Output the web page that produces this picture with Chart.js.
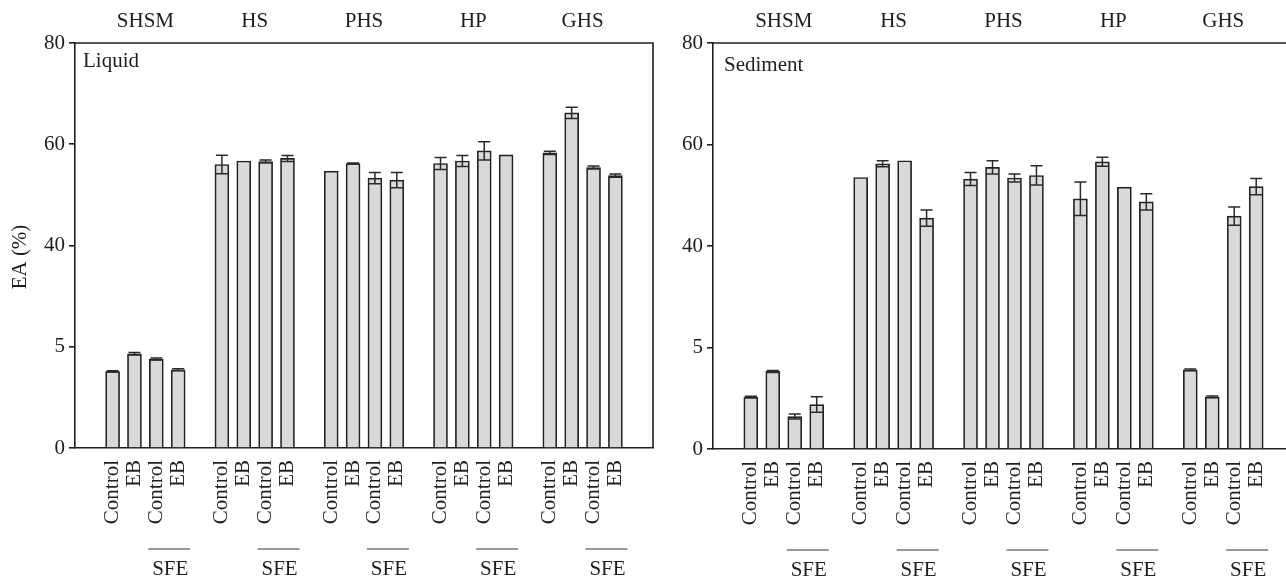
<!DOCTYPE html>
<html>
<head>
<meta charset="utf-8">
<script src="https://cdn.jsdelivr.net/npm/chart.js@4.4.1/dist/chart.umd.min.js"></script>
<style>
  html, body { margin: 0; padding: 0; background: #fff; overflow: hidden; width: 1286px; height: 578px; }
  canvas { position: absolute; top: 0; }
  #liquidChart { left: 0; }
  #sedimentChart { left: 660px; }
</style>
</head>
<body>
<canvas id="liquidChart" width="660" height="578"></canvas>
<canvas id="sedimentChart" width="640" height="578"></canvas>
<script>
// ---- data ----
const groups = ['SHSM', 'HS', 'PHS', 'HP', 'GHS'];
const treatments = ['Control', 'EB', 'Control', 'EB'];
const yTickValues = [0, 5, 40, 60, 80];

const liquidEA  = [3.78, 4.65, 4.39, 3.86,  56.0, 56.7, 56.6, 57.2,  54.7, 56.2, 53.3, 52.9,  56.2, 56.7, 58.7, 57.9,  58.3, 66.2, 55.4, 53.8];
const liquidErr = [0.03, 0.06, 0.05, 0.05,  1.85, 0,    0.3,  0.6,   0,    0.1,  1.1,  1.5,   1.2,  1.1,  1.8,  0,     0.3,  1.1,  0.3,  0.3];

const sedimentEA  = [2.56, 3.82, 1.60, 2.19,  53.5, 56.2, 56.8, 45.5,  53.2, 55.5, 53.4, 53.9,  49.3, 56.6, 51.6, 48.7,  3.90, 2.57, 45.9, 51.7];
const sedimentErr = [0.04, 0.05, 0.12, 0.38,  0,    0.6,  0,    1.6,   1.3,  1.3,  0.8,  1.9,   3.3,  0.9,  0,    1.6,   0.04, 0.04, 1.8,  1.6];

// bar slots: four bars per group, one empty slot between groups
const slots = [];
const slotLabels = [];
groups.forEach((g, gi) => {
    treatments.forEach((t, ti) => {
        slots.push(gi * 5 + ti);
        slotLabels.push(t);
    });
});
const groupCenters = groups.map((g, gi) => gi * 5 + 1.5);

const FONT = "'Liberation Serif', 'DejaVu Serif', serif";
const FSIZE = 21;
const INK = '#1e1e1e';

// broken y axis: each tick interval gets the same height
function toAxis(v) {
    for (let i = 0; i < yTickValues.length - 1; i++) {
        if (v <= yTickValues[i + 1]) {
            return i + (v - yTickValues[i]) / (yTickValues[i + 1] - yTickValues[i]);
        }
    }
    return yTickValues.length - 1;
}

// error bars, panel frame and extra texts
const decorPlugin = {
    id: 'decor',
    afterDatasetsDraw(chart, args, opts) {
        const ctx = chart.ctx;
        const x = chart.scales.x, y = chart.scales.y;
        const area = chart.chartArea;
        ctx.save();

        // error bars
        ctx.strokeStyle = '#2a2a2a';
        ctx.lineWidth = 1.5;
        opts.values.forEach((v, i) => {
            const e = opts.errors[i];
            if (!e) return;
            const px = x.getPixelForValue(slots[i]);
            const yTop = y.getPixelForValue(toAxis(v + e));
            const yBot = y.getPixelForValue(toAxis(v - e));
            ctx.beginPath();
            ctx.moveTo(px, yTop); ctx.lineTo(px, yBot);
            ctx.moveTo(px - 6, yTop); ctx.lineTo(px + 6, yTop);
            ctx.moveTo(px - 6, yBot); ctx.lineTo(px + 6, yBot);
            ctx.stroke();
        });

        // frame (top and right)
        ctx.strokeStyle = INK;
        ctx.lineWidth = 1.6;
        ctx.beginPath();
        ctx.moveTo(area.left, area.top);
        ctx.lineTo(area.right, area.top);
        ctx.lineTo(area.right, area.bottom);
        ctx.stroke();

        // SFE brackets under the last two bars of each group
        ctx.fillStyle = INK;
        ctx.font = FSIZE + 'px ' + FONT;
        ctx.textAlign = 'center';
        ctx.textBaseline = 'alphabetic';
        groups.forEach((g, gi) => {
            const c = (x.getPixelForValue(gi * 5 + 2) + x.getPixelForValue(gi * 5 + 3)) / 2 + 2;
            ctx.lineWidth = 1.2;
            ctx.strokeStyle = '#333';
            ctx.beginPath();
            ctx.moveTo(c - 21, area.bottom + 101);
            ctx.lineTo(c + 21, area.bottom + 101);
            ctx.stroke();
            ctx.fillText('SFE', c + 1, area.bottom + 127);
        });

        // panel name
        ctx.textAlign = 'left';
        ctx.fillText(opts.panel, area.left + opts.panelDx, area.top + opts.panelDy);

        // y title
        if (opts.yTitle) {
            ctx.translate(20, 257);
            ctx.rotate(-Math.PI / 2);
            ctx.textAlign = 'center';
            ctx.textBaseline = 'middle';
            ctx.fillText(opts.yTitle, 0, 0);
        }
        ctx.restore();
    }
};

function buildChart(canvasId, values, errors, panel, yTitle, yWidth, xHeight, padRight, panelDx, panelDy) {
    const ctx = document.getElementById(canvasId);
    return new Chart(ctx, {
        type: 'bar',
        data: {
            datasets: [{
                data: values.map((v, i) => ({ x: slots[i], y: toAxis(v) })),
                backgroundColor: '#d9d9d9',
                borderColor: '#222',
                borderWidth: 1.7,
                borderSkipped: 'start',
                barThickness: 14
            }]
        },
        options: {
            responsive: false,
            devicePixelRatio: 1,
            animation: false,
            layout: { padding: { top: 0, right: padRight, left: 0, bottom: 0 } },
            plugins: {
                legend: { display: false },
                tooltip: { enabled: false },
                decor: { values: values, errors: errors, panel: panel, yTitle: yTitle, panelDx: panelDx, panelDy: panelDy }
            },
            scales: {
                x: {
                    type: 'linear',
                    position: 'bottom',
                    offset: false,
                    bounds: 'data',
                    min: -1.72,
                    max: 24.72,
                    afterBuildTicks: (scale) => { scale.ticks = slots.map(v => ({ value: v })); },
                    afterFit: (scale) => { scale.height = xHeight; },
                    grid: { display: false, offset: false },
                    border: { display: true, color: INK, width: 1.6 },
                    ticks: {
                        autoSkip: false,
                        minRotation: 90,
                        maxRotation: 90,
                        padding: 4,
                        color: INK,
                        font: { family: FONT, size: FSIZE },
                        callback: (value, index) => slotLabels[index]
                    }
                },
                xTop: {
                    type: 'linear',
                    position: 'top',
                    offset: false,
                    bounds: 'data',
                    min: -1.72,
                    max: 24.72,
                    afterBuildTicks: (scale) => { scale.ticks = groupCenters.map(v => ({ value: v })); },
                    afterFit: (scale) => { scale.height = 43; },
                    grid: { display: false, offset: false },
                    border: { display: false },
                    ticks: {
                        autoSkip: false,
                        maxRotation: 0,
                        padding: 1,
                        color: INK,
                        font: { family: FONT, size: FSIZE },
                        callback: (value, index) => groups[index]
                    }
                },
                y: {
                    type: 'linear',
                    min: 0,
                    max: yTickValues.length - 1,
                    afterBuildTicks: (scale) => { scale.ticks = yTickValues.map((t, i) => ({ value: i })); },
                    afterFit: (scale) => { scale.width = yWidth; },
                    grid: { display: true, drawOnChartArea: false, drawTicks: true, tickLength: 6, color: INK, lineWidth: 1.6 },
                    border: { display: true, color: INK, width: 1.6 },
                    ticks: {
                        padding: 4,
                        color: INK,
                        font: { family: FONT, size: FSIZE },
                        callback: (value, index) => String(yTickValues[index])
                    }
                }
            }
        },
        plugins: [decorPlugin]
    });
}

buildChart('liquidChart', liquidEA, liquidErr, 'Liquid', 'EA (%)', 75, 130, 7, 8, 24);
buildChart('sedimentChart', sedimentEA, sedimentErr, 'Sediment', null, 53, 129, 6, 11, 28);
</script>
</body>
</html>
